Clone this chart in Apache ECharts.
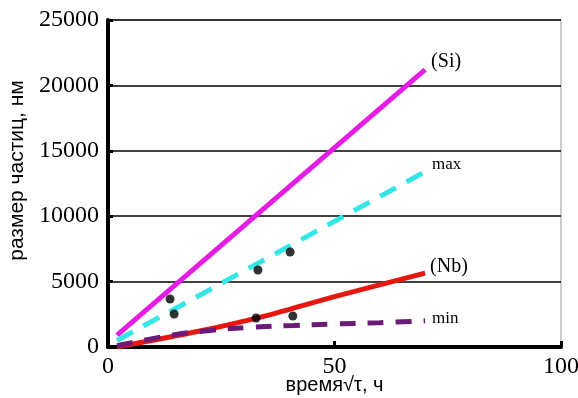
<!DOCTYPE html>
<html><head><meta charset="utf-8">
<script src="https://cdn.jsdelivr.net/npm/echarts@6/dist/echarts.min.js"></script>
<style>html,body{margin:0;padding:0;background:#fff}#c{width:578px;height:398px}</style>
</head><body><div id="c"></div>
<script>
const xTicks = [0, 50, 100];
const yTicks = [0, 5000, 10000, 15000, 20000, 25000];
const siX = [2, 70];
const siY = [900, 21200];
const maxX = [2, 70];
const maxY = [500, 13400];
const nbX = [2, 20, 35, 50, 70];
const nbY = [0, 1200, 2400, 3850, 5650];
const minX = [2, 14, 22, 31, 41, 50, 60, 70];
const minY = [100, 900, 1250, 1500, 1650, 1760, 1860, 2000];
const dotX = [13.7, 14.6, 33.1, 40.2, 32.7, 40.8];
const dotY = [3670, 2520, 5890, 7260, 2220, 2370];
const labels = ['(Si)', 'max', '(Nb)', 'min'];

function pairs(xs, ys) { return xs.map((x, i) => [x, ys[i]]); }
function withEndLabel(xs, ys, text, style) {
  const d = pairs(xs, ys);
  const last = d.length - 1;
  return d.map((p, i) => i === last ? {value: p, label: Object.assign({show: true, formatter: text, position: 'right'}, style)} : p);
}
const serif = 'Liberation Serif';
const chart = echarts.init(document.getElementById('c'), null, {renderer: 'canvas'});
chart.setOption({
  animation: false,
  grid: {left: 108, right: 17, top: 20, bottom: 51, outerBoundsMode: 'none', containLabel: false,
         show: true, borderColor: '#999', borderWidth: 1},
  xAxis: {
    type: 'value', min: xTicks[0], max: xTicks[2], interval: 50,
    axisLine: {show: true, lineStyle: {color: '#000', width: 4}},
    axisTick: {show: true, inside: true, length: 6, lineStyle: {color: '#000', width: 3}},
    axisLabel: {color: '#000', fontFamily: serif, fontSize: 24, margin: 8, formatter: v => String(v)},
    splitLine: {show: false},
    name: 'время√τ, ч', nameLocation: 'middle', nameGap: 28, nameMoveOverlap: false,
    nameTextStyle: {color: '#000', fontFamily: 'Liberation Sans', fontSize: 20}
  },
  yAxis: {
    type: 'value', min: yTicks[0], max: yTicks[5], interval: 5000,
    axisLine: {show: true, lineStyle: {color: '#000', width: 4}},
    axisTick: {show: true, inside: true, length: 5, lineStyle: {color: '#000', width: 3}},
    axisLabel: {color: '#000', fontFamily: serif, fontSize: 24, margin: 9, formatter: v => String(v)},
    splitLine: {show: true, lineStyle: {color: '#000', width: 1.5}},
    name: 'размер частиц, нм', nameLocation: 'middle', nameGap: 80, nameMoveOverlap: false,
    nameTextStyle: {color: '#000', fontFamily: 'Liberation Sans', fontSize: 21, padding: [0, 0, 0, 26]}
  },
  series: [
    {type: 'line', data: withEndLabel(siX, siY, labels[0], {fontFamily: serif, fontSize: 20, color: '#000', distance: 6, offset: [0, -8]}),
     symbol: 'circle', symbolSize: 0, showSymbol: true, lineStyle: {color: '#e41ce4', width: 5}, z: 3},
    {type: 'line', data: withEndLabel(maxX, maxY, labels[1], {fontFamily: serif, fontSize: 17, color: '#000', distance: 7, offset: [0, -7]}),
     symbol: 'circle', symbolSize: 0, showSymbol: true, lineStyle: {color: '#35e6e6', width: 5, type: [18, 12]}, z: 3},
    {type: 'line', data: withEndLabel(nbX, nbY, labels[2], {fontFamily: serif, fontSize: 20, color: '#000', distance: 5, offset: [0, -6]}),
     symbol: 'circle', symbolSize: 0, showSymbol: true, smooth: 0.3, lineStyle: {color: '#e5170f', width: 5}, z: 3},
    {type: 'line', data: withEndLabel(minX, minY, labels[3], {fontFamily: serif, fontSize: 17, color: '#000', distance: 7, offset: [0, -2]}),
     symbol: 'circle', symbolSize: 0, showSymbol: true, smooth: 0.4, lineStyle: {color: '#6b1a78', width: 5, type: [16, 12]}, z: 3},
    {type: 'scatter', data: pairs(dotX, dotY), symbol: 'circle', symbolSize: 9, itemStyle: {color: '#000'}, z: 4}
  ]
});
</script></body></html>
